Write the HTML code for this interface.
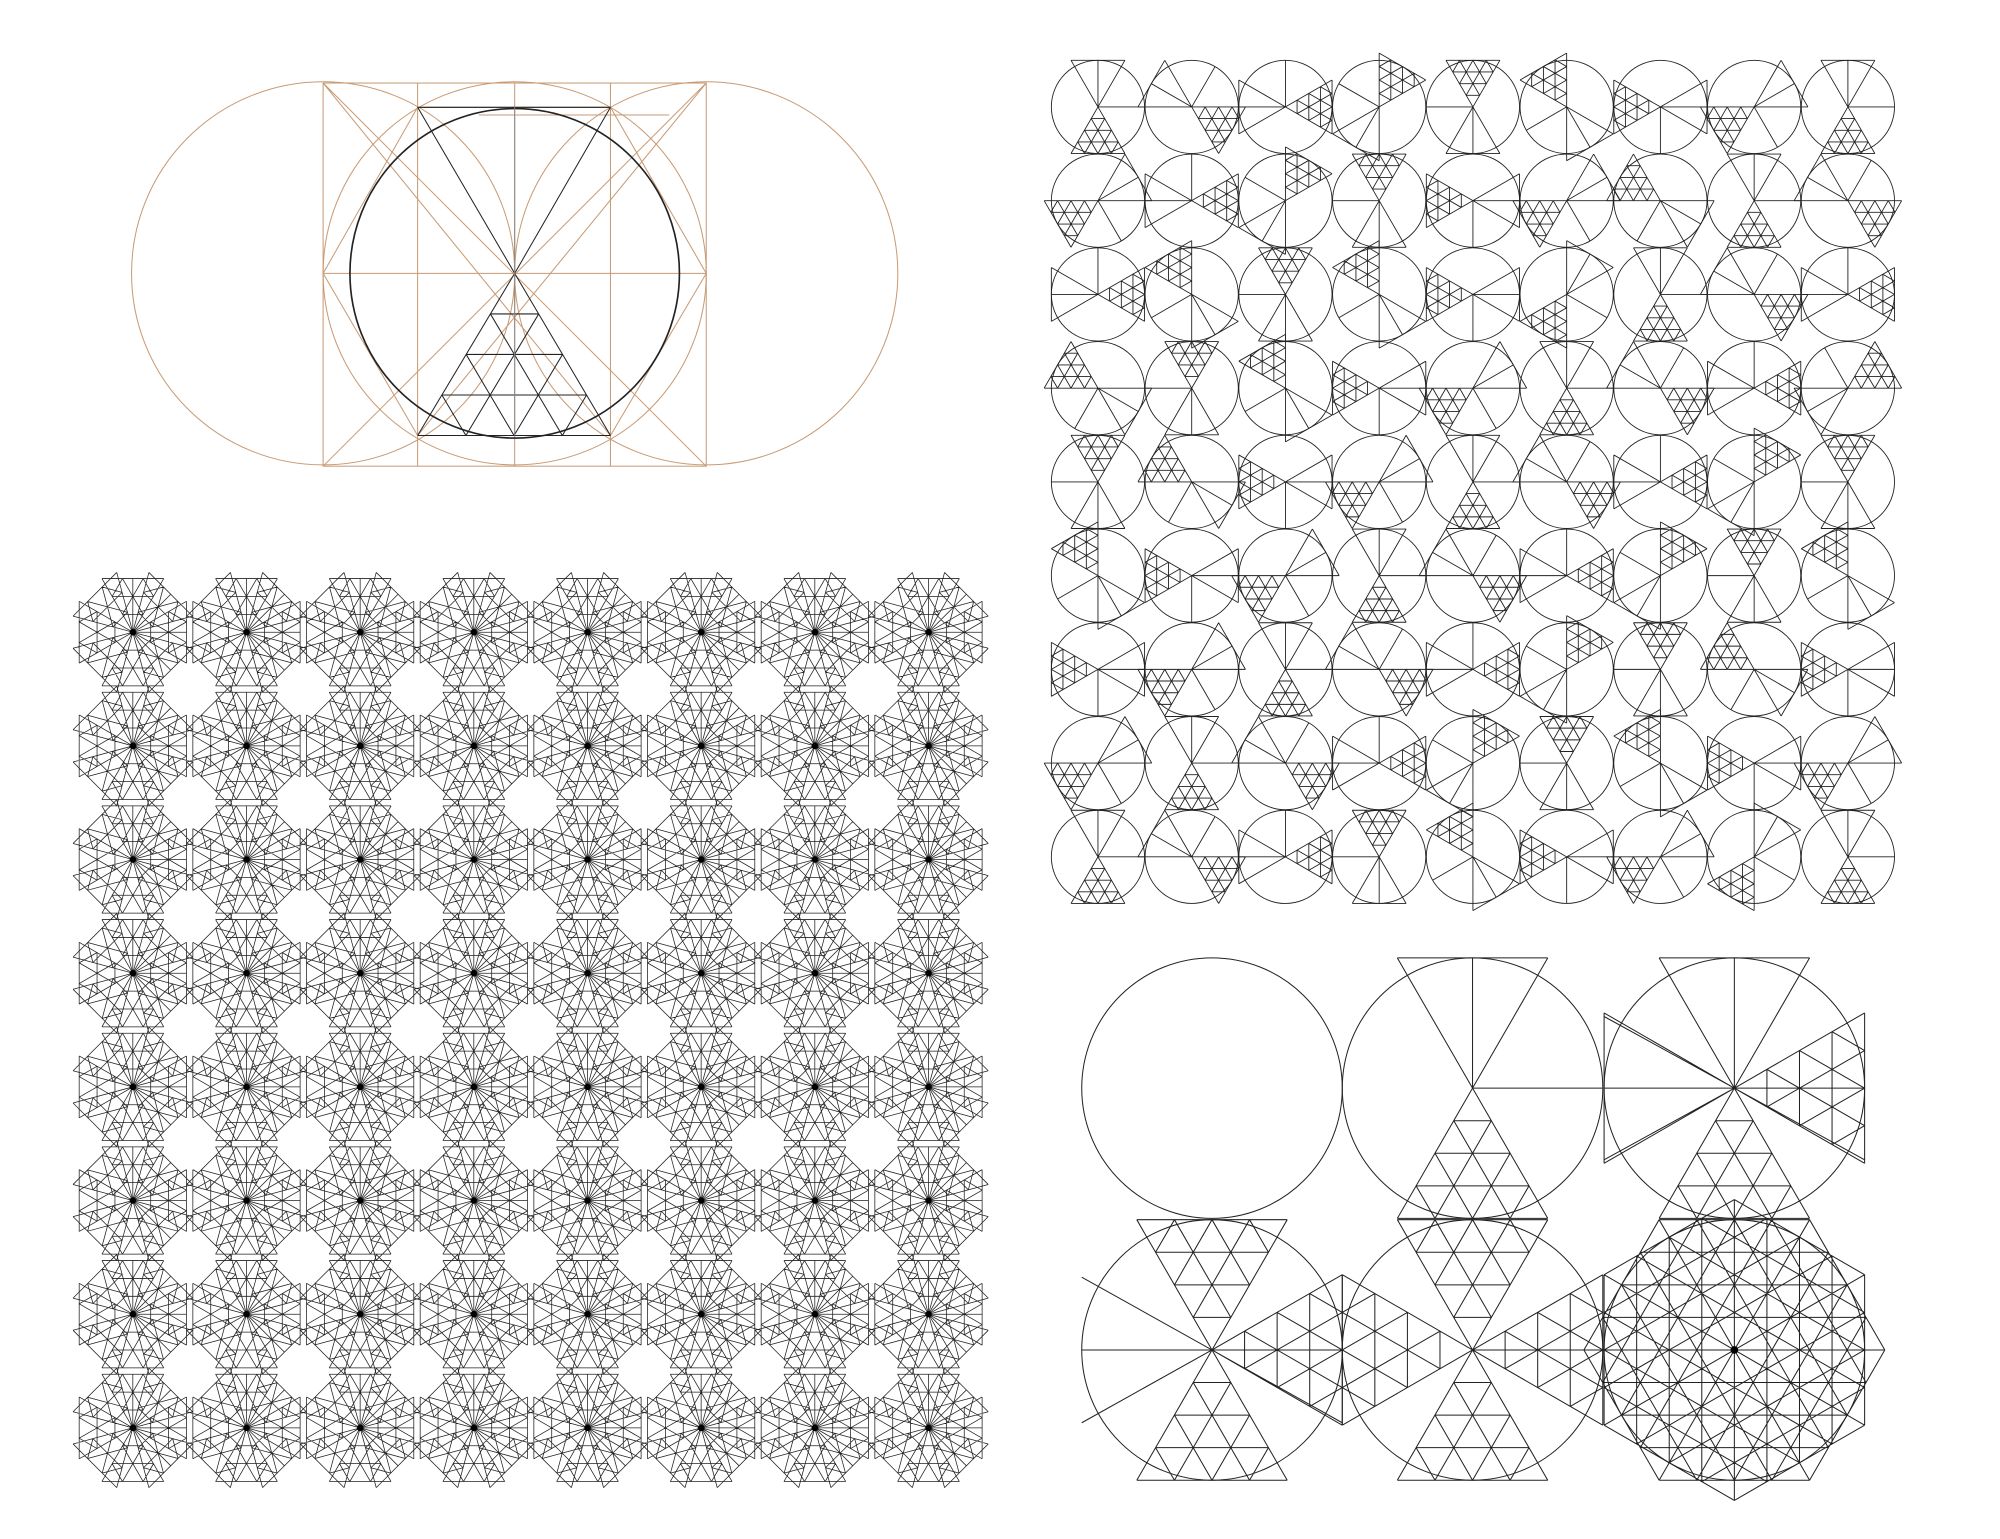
<!DOCTYPE html>
<html><head><meta charset="utf-8"><style>
html,body{margin:0;padding:0;background:#fff;}
svg{display:block;}
</style></head><body>
<svg id="art" width="2000" height="1539" viewBox="0 0 1566 1205" xmlns="http://www.w3.org/2000/svg">
<rect width="1566" height="1205" fill="#fff"/>
<g id="tl" fill="none"></g>
<g id="tr" fill="none" stroke="#222" stroke-width="0.7"></g>
<g id="bl" fill="none" stroke="#222" stroke-width="0.6"></g>
<g id="br" fill="none" stroke="#222" stroke-width="0.8"></g>
</svg>
<script>
// data: rotation (deg, direction of latticed triangle; 90 = down) for the 9x9 grid
const gridAngles = [
 90, 30, 0, 300, 270, 240, 180, 150, 90,
 150, 0, 300, 270, 180, 150, 210, 90, 30,
 0, 240, 270, 240, 180, 120, 90, 30, 0,
 210, 270, 240, 180, 150, 90, 30, 0, 330,
 270, 210, 180, 150, 90, 30, 0, 300, 270,
 240, 180, 150, 90, 30, 0, 300, 270, 240,
 180, 150, 90, 30, 0, 300, 270, 210, 180,
 150, 90, 30, 0, 300, 270, 240, 180, 150,
 90, 30, 0, 270, 240, 180, 150, 120, 90
];
const rosetteRotations = [0, 45, 90, 135];
const bigRosetteRotations = [0, 30, 60, 90, 120, 150];

const NS = "http://www.w3.org/2000/svg";
function mk(parent, tag, attrs, name) {
  const el = document.createElementNS(NS, tag);
  for (const k in attrs) el.setAttribute(k, attrs[k]);
  
  
  parent.appendChild(el);
  return el;
}
function seg(a, b) { return "M" + a[0].toFixed(1) + " " + a[1].toFixed(1) + "L" + b[0].toFixed(1) + " " + b[1].toFixed(1); }
function lerp(a, b, t) { return [a[0] + (b[0] - a[0]) * t, a[1] + (b[1] - a[1]) * t]; }
function lattice(P, B1, B2, n) {
  let d = "";
  for (let k = 0; k <= n; k++) {
    d += seg(lerp(P, B2, k / n), lerp(B1, B2, k / n));
    d += seg(lerp(P, B1, k / n), lerp(B2, B1, k / n));
    if (k > 0) d += seg(lerp(P, B1, k / n), lerp(P, B2, k / n));
  }
  return d;
}
function tri(cx, cy, r, angDeg) {
  const a = angDeg * Math.PI / 180, h = r * Math.tan(Math.PI / 6);
  const ux = Math.cos(a), uy = Math.sin(a), px = -uy, py = ux;
  const P = [cx, cy];
  const B1 = [cx + ux * r + px * h, cy + uy * r + py * h];
  const B2 = [cx + ux * r - px * h, cy + uy * r - py * h];
  return [P, B1, B2];
}
function outline(t) { return seg(t[0], t[1]) + seg(t[1], t[2]) + seg(t[2], t[0]); }
function glyph(cx, cy, r, ang, n, bothLattice) {
  const A = tri(cx, cy, r, ang), B = tri(cx, cy, r, ang + 180);
  let d = lattice(A[0], A[1], A[2], n);
  d += bothLattice ? lattice(B[0], B[1], B[2], n) : outline(B) + seg(B[0], lerp(B[1], B[2], 0.5));
  const a2 = (ang + 90) * Math.PI / 180;
  d += seg([cx - Math.cos(a2) * r, cy - Math.sin(a2) * r], [cx, cy]);
  return d;
}

// ---- top-left construction ----
const tl = document.getElementById('tl');
const OR = "#c89a74";
[[253, 214], [403, 214], [553, 214]].forEach(c => {
  mk(tl, 'circle', {cx: c[0], cy: c[1], r: 150, stroke: OR, 'stroke-width': 0.8}, 'construction-circle');
});
mk(tl, 'rect', {x: 253, y: 65, width: 300, height: 300, stroke: OR, 'stroke-width': 0.8}, 'construction-square');
let od = "";
[327, 403, 478].forEach(x => od += seg([x, 65], [x, 365]));
od += seg([253, 214], [553, 214]);
od += "M253 214L327 84L478 84L553 214L478 341L327 341Z";
od += seg([253, 65], [553, 365]) + seg([553, 65], [253, 365]);
od += seg([327, 341], [553, 65]) + seg([478, 341], [253, 65]);
od += seg([375, 90], [524, 90]);
mk(tl, 'path', {d: od, stroke: OR, 'stroke-width': 0.8}, 'construction-lines');
mk(tl, 'circle', {cx: 403, cy: 214, r: 129, stroke: "#222", 'stroke-width': 1.3}, 'main-circle');
let bd = seg([327, 84], [478, 84]) + seg([327, 84], [403, 214]) + seg([478, 84], [403, 214]);
bd += lattice([403, 214], [327, 341], [478, 341], 4);
mk(tl, 'path', {d: bd, stroke: "#222", 'stroke-width': 0.8}, 'triangle-lattice');
mk(tl, 'path', {d: seg([403, 84], [403, 341]), stroke: "#888", 'stroke-width': 0.8}, 'center-axis');

// ---- top-right grid ----
const tr = document.getElementById('tr');
const cell = 73.4, r0 = 36.5;
for (let i = 0; i < 9; i++) for (let j = 0; j < 9; j++) {
  const cx = 823 + cell * (j + 0.5), cy = 47 + cell * (i + 0.5);
  const g = mk(tr, 'g', {}, 'glyph-cell');
  mk(g, 'circle', {cx: cx, cy: cy, r: r0}, 'glyph-circle');
  mk(g, 'path', {d: glyph(cx, cy, r0, gridAngles[i * 9 + j], 4, false)}, 'glyph-triangles');
}

// ---- bottom-left rosettes ----
const bl = document.getElementById('bl');
for (let i = 0; i < 8; i++) for (let j = 0; j < 8; j++) {
  const cx = 104 + 89 * j, cy = 495 + 89 * i;
  let d = "";
  rosetteRotations.forEach(a => { d += glyph(cx, cy, 42, a, 3, true); });
  mk(bl, 'path', {d: d}, 'rosette');
  mk(bl, 'circle', {cx: cx, cy: cy, r: 2.5, fill: "#000", stroke: "none"}, 'rosette-center');
}

// ---- bottom-right steps ----
const br = document.getElementById('br');
const R = 102;
const centers = [[949, 852], [1153, 852], [1358, 852], [949, 1057], [1153, 1057], [1358, 1057]];
centers.forEach(c => mk(br, 'circle', {cx: c[0], cy: c[1], r: R}, 'step-circle'));
mk(br, 'path', {d: glyph(1153, 852, R, 90, 4, false)}, 'step-2-glyph');
let d3 = glyph(1358, 852, R, 90, 4, false) + glyph(1358, 852, R, 0, 4, false);
d3 += seg([1358 - R, 852], [1358, 852]) + seg([1358 - R, 852 - R * 0.55], [1358 + R, 852 + R * 0.55]) + seg([1358 - R, 852 + R * 0.55], [1358, 852]);
mk(br, 'path', {d: d3}, 'step-3-glyph');
let d4 = glyph(949, 1057, R, 90, 4, true) + lattice(...tri(949, 1057, R, 0), 4) + seg([847, 1057], [949, 1057]);
d4 += seg([847, 1000], [1051, 1114]) + seg([847, 1114], [949, 1057]);
mk(br, 'path', {d: d4}, 'step-4-glyph');
let d5 = glyph(1153, 1057, R, 90, 4, true) + lattice(...tri(1153, 1057, R, 0), 4) + lattice(...tri(1153, 1057, R, 180), 4);
mk(br, 'path', {d: d5}, 'step-5-glyph');
let d6 = "";
bigRosetteRotations.forEach(a => { d6 += glyph(1358, 1057, R, a, 4, true); });
mk(br, 'path', {d: d6}, 'step-6-rosette');
mk(br, 'circle', {cx: 1358, cy: 1057, r: 3, fill: "#000", stroke: "none"}, 'rosette-center');
</script>
</body></html>
